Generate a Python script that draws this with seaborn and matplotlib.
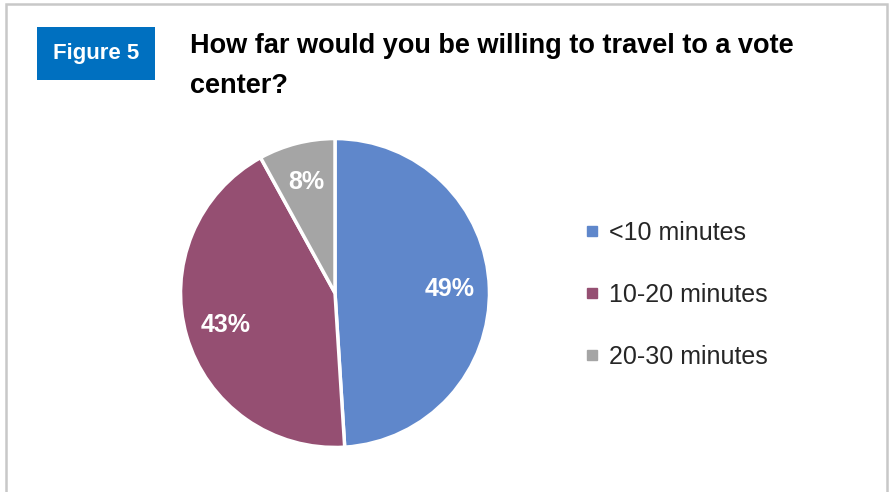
import numpy as np
import matplotlib
matplotlib.use("Agg")
import matplotlib.pyplot as plt
import seaborn as sns
from matplotlib.patches import Rectangle
from matplotlib.lines import Line2D

# ---- data ----
categorias = ['<10 minutes', '10-20 minutes', '20-30 minutes']
porcentajes = [49, 43, 8]
colores = ['#5F87CB', '#954F72', '#A5A5A5']
titulo = 'How far would you be willing to travel to a vote\ncenter?'
etiqueta_figura = 'Figure 5'

# ---- style ----
sns.set_theme(style="white")
plt.rcParams['font.family'] = ['Liberation Sans Narrow', 'Liberation Sans', 'DejaVu Sans']

W, H = 890, 492
fig = plt.figure(figsize=(W / 100, H / 100), dpi=100)
fig.patch.set_facecolor('white')

# grey frame around the chart
fig.add_artist(Rectangle((6 / W, -0.05), 881 / W, (H - 4) / H + 0.05,
                         transform=fig.transFigure, fill=False,
                         edgecolor='#C8C8C8', linewidth=1.8))

# "Figure 5" box
fig.add_artist(Rectangle((37 / W, 1 - 80 / H), 118 / W, 53 / H,
                         transform=fig.transFigure, facecolor='#0070C0',
                         edgecolor='none'))
fig.text(96 / W, 1 - 54 / H, etiqueta_figura, color='white', fontsize=16,
         fontweight='bold', ha='center', va='center')

# title
fig.text(190 / W, 1 - 33 / H, titulo, color='black', fontsize=19.5,
         fontweight='bold', ha='left', va='top', linespacing=1.7)

# pie (axes spans exactly the pie diameter)
ax = fig.add_axes([179 / W, 43 / H, 312 / W, 312 / H])
wedges, textos, autotextos = ax.pie(
    porcentajes, colors=colores, startangle=90, counterclock=False,
    autopct='%1.0f%%', pctdistance=0.74, radius=1,
    wedgeprops=dict(edgecolor='white', linewidth=2.5),
    textprops=dict(color='white', fontsize=18, fontweight='bold'))
ax.set_xlim(-1.01, 1.01)
ax.set_ylim(-1.01, 1.01)
ax.set_aspect('equal')

# legend
handles = [Line2D([0], [0], marker='s', linestyle='none', markersize=7,
                  markerfacecolor=c, markeredgecolor=c) for c in colores]
fig.legend(handles, categorias, loc='upper left',
           bbox_to_anchor=(573 / W, 1 - 208 / H), frameon=False,
           fontsize=18, labelspacing=1.52, handlelength=0.5,
           handletextpad=0.45, borderpad=0)

fig.savefig('out.png', dpi=100, facecolor='white')
